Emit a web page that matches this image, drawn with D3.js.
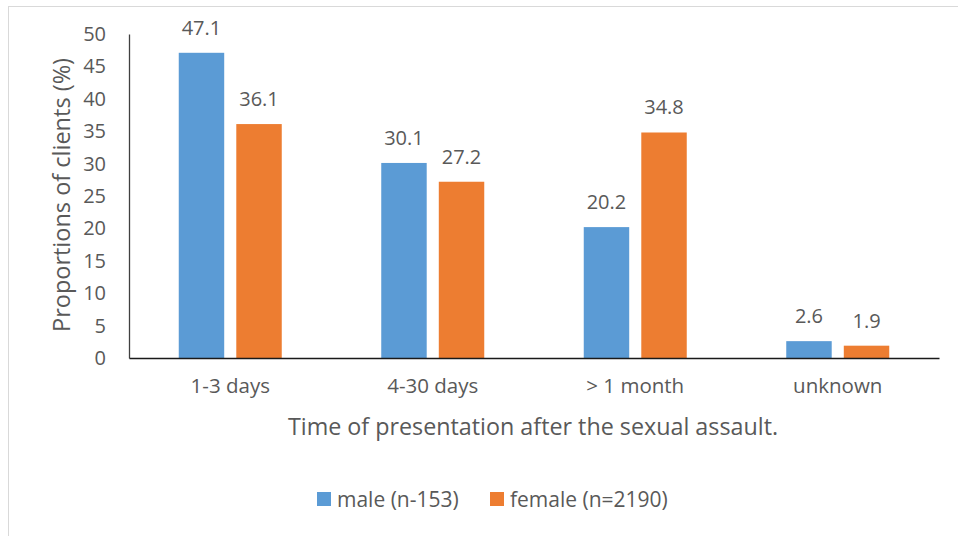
<!DOCTYPE html>
<html>
<head>
<meta charset="utf-8">
<script src="https://cdn.jsdelivr.net/npm/d3@7"></script>
<style>
  body { margin: 0; background: #fff; }
  text { font-family: "Open Sans", sans-serif; fill: #595959; }
</style>
</head>
<body>
<svg id="chart" width="958" height="536"></svg>
<script>
// data
var categories = ["1-3 days", "4-30 days", "> 1 month", "unknown"];
var seriesNames = ["male (n-153)", "female (n=2190)"];
var maleValues = [47.1, 30.1, 20.2, 2.6];
var femaleValues = [36.1, 27.2, 34.8, 1.9];
var yTicks = [0, 5, 10, 15, 20, 25, 30, 35, 40, 45, 50];

var colors = ["#5B9BD5", "#ED7D31"];

var svg = d3.select("#chart");

// outer chart frame
svg.append("rect")
  .attr("x", 8.5).attr("y", 6.5)
  .attr("width", 980).attr("height", 560)
  .attr("fill", "none")
  .attr("stroke", "#d9d9d9");

var plotLeft = 129, plotRight = 939, plotTop = 34, plotBottom = 358;

var x0 = d3.scaleBand().domain(categories).range([plotLeft, plotRight]);
var x1 = d3.scaleBand().domain([0, 1]).range([0, 103]).paddingInner(0.21);
var y = d3.scaleLinear().domain([0, 50]).range([plotBottom, plotTop]);

// y tick labels
var yAxis = svg.append("g")
  .attr("transform", "translate(" + plotLeft + ",0)")
  .call(d3.axisLeft(y).tickValues(yTicks).tickSize(0).tickPadding(23));
yAxis.select(".domain").attr("stroke", "#404040").attr("stroke-width", 1.3);
yAxis.selectAll("text")
  .attr("font-size", "20px")
  .attr("font-family", "Open Sans, sans-serif")
  .attr("fill", "#595959");

var rows = categories.map(function(c, i) {
  return { cat: c, vals: [maleValues[i], femaleValues[i]] };
});

var groups = svg.append("g").selectAll("g")
  .data(rows)
  .join("g")
  .attr("transform", function(d) {
    return "translate(" + (x0(d.cat) + x0.bandwidth() / 2 - 51.5) + ",0)";
  });

groups.selectAll("rect")
  .data(function(d) { return d.vals; })
  .join("rect")
  .attr("x", function(d, i) { return x1(i); })
  .attr("width", x1.bandwidth())
  .attr("y", function(d) { return y(d); })
  .attr("height", function(d) { return plotBottom - y(d); })
  .attr("fill", function(d, i) { return colors[i]; });

groups.selectAll("text")
  .data(function(d) { return d.vals; })
  .join("text")
  .attr("x", function(d, i) { return x1(i) + x1.bandwidth() / 2; })
  .attr("y", function(d) { return y(d) - 18; })
  .attr("text-anchor", "middle")
  .attr("font-size", "20px")
  .text(function(d) { return d.toFixed(1); });

// x axis
var xAxis = svg.append("g")
  .attr("transform", "translate(0," + plotBottom + ")")
  .call(d3.axisBottom(x0).tickSize(0).tickPadding(20));
xAxis.select(".domain").attr("stroke", "#1a1a1a").attr("stroke-width", 1.6);
xAxis.selectAll("text")
  .attr("font-size", "20.5px")
  .attr("font-family", "Open Sans, sans-serif")
  .attr("fill", "#595959");

// axis titles
svg.append("text")
  .attr("x", 533).attr("y", 435)
  .attr("text-anchor", "middle")
  .attr("font-size", "23.3px")
  .text("Time of presentation after the sexual assault.");

svg.append("text")
  .attr("transform", "rotate(-90)")
  .attr("x", -195).attr("y", 70)
  .attr("text-anchor", "middle")
  .attr("font-size", "23.5px")
  .text("Proportions of clients (%)");

// legend
var legendX = [317, 490];
var legend = svg.append("g").selectAll("g")
  .data(seriesNames)
  .join("g")
  .attr("transform", function(d, i) { return "translate(" + legendX[i] + ",492)"; });
legend.append("rect")
  .attr("width", 14).attr("height", 14)
  .attr("fill", function(d, i) { return colors[i]; });
legend.append("text")
  .attr("x", 20).attr("y", 14.5)
  .attr("font-size", "21px")
  .text(function(d) { return d; });
</script>
</body>
</html>
